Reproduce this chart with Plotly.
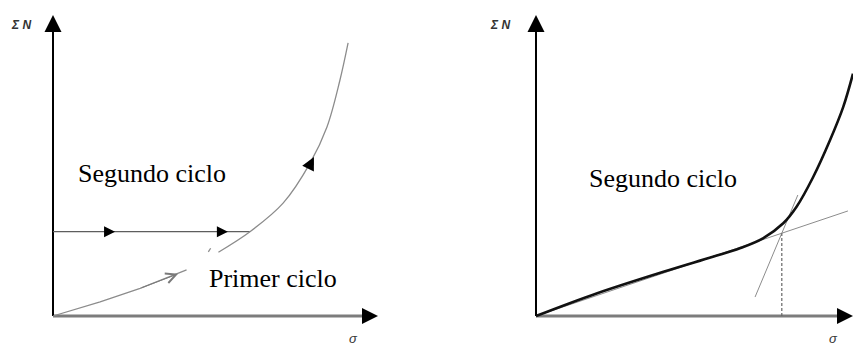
import plotly.graph_objects as go

W, H = 853, 347

# ---------------- left panel: first and second cycle ----------------
# first loading cycle (thin grey curve from the origin)
first_x = [0.0, 1.45, 2.68, 4.11]
first_y = [0.0, 0.47, 0.92, 1.53]
first_arrow_tip = (3.85, 1.40)          # open arrowhead on the first cycle

# unloading / reloading plateau
plateau_x = [0.0, 6.06]
plateau_y = [2.80, 2.80]
plateau_arrow_x = [1.91, 5.38]          # filled arrowheads along the plateau

# second cycle (thin grey curve rising steeply)
second_x = [5.09, 6.06, 7.08, 7.91, 8.43, 8.83, 9.08]
second_y = [2.12, 2.80, 3.75, 5.08, 6.28, 7.84, 9.07]
second_arrow_tip = (8.03, 5.28)
second_arrow_angle = 27
break_x = [4.78, 4.85]                  # short stroke where the curve resumes
break_y = [2.13, 2.25]

# ---------------- right panel: construction on the second cycle ----------------
cycle_x = [0.0, 1.91, 4.02, 5.58, 6.43, 7.16, 7.80, 8.22, 8.74, 9.27, 9.69, 10.0]
cycle_y = [0.0, 0.75, 1.47, 1.97, 2.25, 2.58, 3.08, 3.63, 4.61, 5.83, 6.94, 8.05]
tan1_x = [0.0, 9.84]
tan1_y = [0.0, 3.49]
tan2_x = [6.91, 8.26]
tan2_y = [0.63, 4.02]

AXIS_END = 10.0

# intersection of the two tangents -> projected down to the sigma axis
m1 = (tan1_y[1] - tan1_y[0]) / (tan1_x[1] - tan1_x[0])
m2 = (tan2_y[1] - tan2_y[0]) / (tan2_x[1] - tan2_x[0])
b1 = tan1_y[0] - m1 * tan1_x[0]
b2 = tan2_y[0] - m2 * tan2_x[0]
sx = (b2 - b1) / (m1 - m2)
sy = m1 * sx + b1

# ---------------- layout geometry (pixels) ----------------
LX0, LSCALE = 53, 32.5      # left panel origin / px per unit
RX0, RSCALE = 536, 31.7     # right panel origin / px per unit
Y0, YSCALE = 316, 30.1      # common baseline / px per unit
XR_L = [-0.3, 10.3]
XR_R = [-0.3, 10.0]
YR = [-0.3, 10.3]


def xdom(x0, s, r):
    return [(x0 + s * r[0]) / W, min(1.0, (x0 + s * r[1]) / W)]


ydom = [1 - (Y0 - YSCALE * YR[0]) / H, 1 - (Y0 - YSCALE * YR[1]) / H]

GREY = "#8c8c8c"
SERIF = "Liberation Serif, Times New Roman, serif"

fig = go.Figure()


def add_axes(xa, ya):
    # sigma axis (grey, thick) and sum-N axis (black)
    fig.add_trace(go.Scatter(x=[0, AXIS_END - 0.3], y=[0, 0], mode="lines",
                             line=dict(color="#7c7c7c", width=3),
                             xaxis=xa, yaxis=ya, hoverinfo="skip"))
    fig.add_trace(go.Scatter(x=[0, 0], y=[0, AXIS_END - 0.3], mode="lines",
                             line=dict(color="#000000", width=2),
                             xaxis=xa, yaxis=ya, hoverinfo="skip"))
    fig.add_trace(go.Scatter(x=[AXIS_END], y=[0], mode="markers",
                             marker=dict(symbol="arrow-right", size=16, color="#000"),
                             cliponaxis=False, xaxis=xa, yaxis=ya, hoverinfo="skip"))
    fig.add_trace(go.Scatter(x=[0], y=[AXIS_END], mode="markers",
                             marker=dict(symbol="arrow-up", size=17, color="#000"),
                             cliponaxis=False, xaxis=xa, yaxis=ya, hoverinfo="skip"))


# ---- left panel ----
add_axes("x", "y")
fig.add_trace(go.Scatter(x=first_x, y=first_y, mode="lines",
                         line=dict(color=GREY, width=1.3), hoverinfo="skip"))
fig.add_trace(go.Scatter(x=plateau_x, y=plateau_y, mode="lines",
                         line=dict(color="#5e5e5e", width=1.3), hoverinfo="skip"))
fig.add_trace(go.Scatter(x=plateau_arrow_x, y=[plateau_y[0]] * len(plateau_arrow_x),
                         mode="markers",
                         marker=dict(symbol="arrow-right", size=11, color="#000"),
                         hoverinfo="skip"))
fig.add_trace(go.Scatter(x=second_x, y=second_y, mode="lines", line_shape="spline",
                         line=dict(color=GREY, width=1.3), hoverinfo="skip"))
fig.add_trace(go.Scatter(x=break_x, y=break_y, mode="lines",
                         line=dict(color=GREY, width=1.3), hoverinfo="skip"))
fig.add_trace(go.Scatter(x=[second_arrow_tip[0]], y=[second_arrow_tip[1]], mode="markers",
                         marker=dict(symbol="arrow-up", size=13, color="#000",
                                     angle=second_arrow_angle),
                         hoverinfo="skip"))

# ---- right panel ----
add_axes("x2", "y2")
fig.add_trace(go.Scatter(x=tan1_x, y=tan1_y, mode="lines", xaxis="x2", yaxis="y2",
                         line=dict(color=GREY, width=1), hoverinfo="skip"))
fig.add_trace(go.Scatter(x=tan2_x, y=tan2_y, mode="lines", xaxis="x2", yaxis="y2",
                         line=dict(color=GREY, width=1), hoverinfo="skip"))
fig.add_trace(go.Scatter(x=[sx, sx], y=[0, sy], mode="lines", xaxis="x2", yaxis="y2",
                         line=dict(color="#666", width=1.2, dash="3px,2px"),
                         hoverinfo="skip"))
fig.add_trace(go.Scatter(x=cycle_x, y=cycle_y, mode="lines", line_shape="spline",
                         xaxis="x2", yaxis="y2",
                         line=dict(color="#111", width=2.6), hoverinfo="skip"))

annotations = [
    # open arrowhead on the first cycle
    dict(x=first_arrow_tip[0], y=first_arrow_tip[1], xref="x", yref="y",
         ax=first_x[2], ay=first_y[2], axref="x", ayref="y", text="",
         showarrow=True, arrowhead=5, arrowsize=2.0, arrowwidth=1,
         arrowcolor="#7a7a7a"),
    dict(x=0.71, y=4.72, xref="x", yref="y", text="Segundo ciclo",
         showarrow=False, xanchor="left", yanchor="middle",
         font=dict(family=SERIF, size=26, color="#000")),
    dict(x=4.74, y=1.26, xref="x", yref="y", text="Primer ciclo",
         showarrow=False, xanchor="left", yanchor="middle",
         font=dict(family=SERIF, size=26, color="#000")),
    dict(x=1.61, y=4.58, xref="x2", yref="y2", text="Segundo ciclo",
         showarrow=False, xanchor="left", yanchor="middle",
         font=dict(family=SERIF, size=26, color="#000")),
]

# axis symbols
for px, py, txt, fs in [(21, 25, "<b><i>Σ N</i></b>", 12), (500, 25, "<b><i>Σ N</i></b>", 12),
                        (353, 338, "<i>σ</i>", 13), (833, 338, "<i>σ</i>", 13)]:
    annotations.append(dict(x=px / W, y=1 - py / H, xref="paper", yref="paper",
                            text=txt, showarrow=False, xanchor="center",
                            yanchor="middle",
                            font=dict(family="Liberation Sans, Arial", size=fs,
                                      color="#333")))

ax_common = dict(visible=False, showgrid=False, zeroline=False, fixedrange=True)
fig.update_layout(
    width=W, height=H, margin=dict(l=0, r=0, t=0, b=0),
    paper_bgcolor="#ffffff", plot_bgcolor="rgba(0,0,0,0)", showlegend=False,
    xaxis=dict(domain=xdom(LX0, LSCALE, XR_L), range=XR_L, anchor="y", **ax_common),
    yaxis=dict(domain=ydom, range=YR, anchor="x", **ax_common),
    xaxis2=dict(domain=xdom(RX0, RSCALE, XR_R), range=XR_R, anchor="y2", **ax_common),
    yaxis2=dict(domain=ydom, range=YR, anchor="x2", **ax_common),
    annotations=annotations,
)

fig.write_html("out.html")
